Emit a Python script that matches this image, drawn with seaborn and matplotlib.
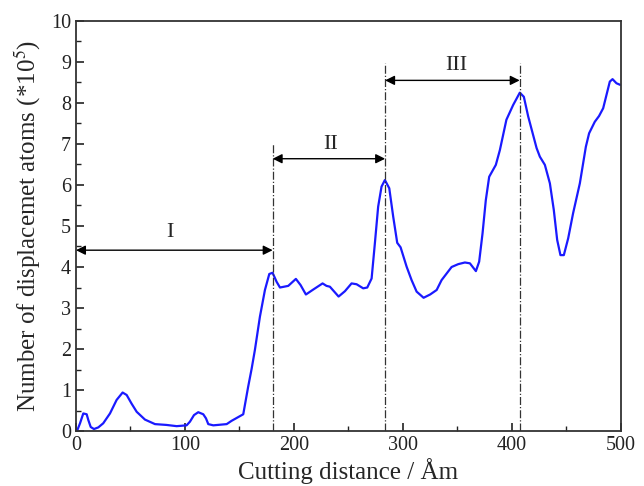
import matplotlib
matplotlib.use("Agg")
import matplotlib.pyplot as plt
import seaborn as sns
import pandas as pd
from matplotlib.ticker import MultipleLocator

distance = [0.2, 1.2, 3.7, 6.7, 9.8, 11.3, 13.5, 16.5, 20.5, 25, 31.2, 37.3, 42.8, 46.5, 51,
            55.7, 63.3, 72.5, 83, 92.4, 101.5, 104.6, 108.3, 112.2, 116.8, 119.3, 121.4, 126,
            138.3, 142.8, 153.5, 158, 161.2, 164.2, 168.8, 173.4, 177.4, 180.4, 184.1,
            187.2, 194.8, 201.8, 206.1, 211, 217.7, 226.3, 229.9, 233, 241, 246.8, 252.9, 257.5,
            263.6, 267.3, 271.3, 274.3, 277.3, 280.4, 283.5, 287.5, 291.1, 294.8, 297.9, 303.4,
            308, 312.6, 319, 325, 331, 335.5, 344.7, 350.8, 356.9, 361.5, 367, 370, 373.1, 376.1,
            379.2, 385.3, 389, 395, 401.2, 407.3, 411, 415, 422.7, 425.7, 430.3, 434.9, 438.5,
            441.6, 444.6, 447.7, 451.7, 456.2, 462.4, 467.9, 470.9, 476.1, 480, 483.8, 489.9,
            492.4, 496, 499.5]
displaced = [0.0, 0.02, 0.19, 0.43, 0.41, 0.27, 0.1, 0.05, 0.09, 0.19, 0.43, 0.76, 0.94, 0.88,
             0.67, 0.47, 0.28, 0.17, 0.15, 0.12, 0.14, 0.23, 0.39, 0.46, 0.41, 0.31, 0.17, 0.14,
             0.17, 0.25, 0.41, 1.08, 1.52, 1.98, 2.79, 3.44, 3.83, 3.86, 3.64, 3.5, 3.54,
             3.71, 3.56, 3.33, 3.45, 3.6, 3.54, 3.52, 3.28, 3.41, 3.6, 3.58, 3.48, 3.5, 3.72,
             4.58, 5.47, 5.96, 6.12, 5.92, 5.23, 4.59, 4.48, 4.01, 3.68, 3.40, 3.25, 3.33, 3.44,
             3.68, 4.0, 4.07, 4.11, 4.09, 3.9, 4.13, 4.82, 5.63, 6.2, 6.49, 6.85, 7.59, 7.95,
             8.25, 8.15, 7.67, 6.9, 6.69, 6.49, 6.04, 5.39, 4.66, 4.29, 4.29, 4.7, 5.31, 6.04,
             6.93, 7.26, 7.54, 7.68, 7.87, 8.52, 8.58, 8.48, 8.44]

boundaries = [180.5, 283.7, 407.2]
boundary_tops = [7.03, 8.97, 8.97]
stage_labels = ["I", "II", "III"]
stage_starts = [0, 180.5, 283.7]
stage_ends = [180.5, 283.7, 407.2]
arrow_y = [4.41, 6.64, 8.55]
label_x = [86, 233.6, 349]
label_y = [4.83, 6.98, 8.91]

sns.set_theme(style="white")
plt.rcParams["font.family"] = ["Liberation Serif", "DejaVu Serif"]
plt.rcParams["mathtext.fontset"] = "stix"

fig = plt.figure(figsize=(6.44, 4.86), dpi=100)
ax = fig.add_axes([0.118, 0.113, 0.846, 0.844])

df = pd.DataFrame({"distance": distance, "displaced": displaced})
sns.lineplot(data=df, x="distance", y="displaced", sort=False, estimator=None,
             color="#1a1aff", linewidth=1.6, ax=ax)

for xb, top in zip(boundaries, boundary_tops):
    ax.plot([xb, xb], [0, top], color="#333333", linewidth=0.9, linestyle="-.")

for s, e, ay, lx, ly, lab in zip(stage_starts, stage_ends, arrow_y, label_x, label_y, stage_labels):
    ax.annotate("", xy=(e, ay), xytext=(s, ay),
                arrowprops=dict(arrowstyle="<|-|>", color="black", linewidth=1.0,
                                mutation_scale=14, shrinkA=0, shrinkB=0))
    ax.text(lx, ly, lab, ha="center", va="center", fontsize=16)

ax.set_xlim(0, 500)
ax.set_ylim(0, 10)
ax.xaxis.set_major_locator(MultipleLocator(100))
ax.xaxis.set_minor_locator(MultipleLocator(50))
ax.yaxis.set_major_locator(MultipleLocator(1))
ax.yaxis.set_minor_locator(MultipleLocator(0.5))
ax.tick_params(which="both", direction="in", bottom=True, left=True, top=False, right=False,
               labelsize=14.5, colors="#222222")
ax.tick_params(which="major", length=6, width=1.2)
ax.tick_params(which="minor", length=3.5, width=1.0)
for sp in ax.spines.values():
    sp.set_color("#333333")
    sp.set_linewidth(1.3)

ax.set_xlabel("Cutting distance / Åm", fontsize=18, labelpad=2)
ax.set_ylabel("Number of displacemet atoms (*10$^5$)", fontsize=18, labelpad=6)

fig.savefig("out.png", dpi=100)
